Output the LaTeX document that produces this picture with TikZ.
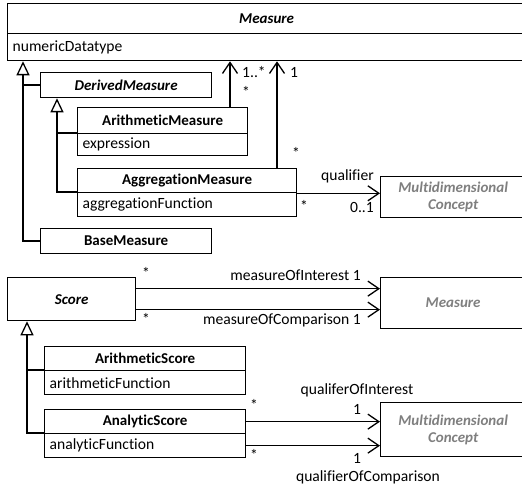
\documentclass[tikz,border=0pt]{standalone}
\usepackage{fontspec}
\setmainfont{Carlito}[Ligatures=CommonOff]
\usetikzlibrary{arrows.meta}
\definecolor{ghost}{RGB}{127,127,127}
\newcommand\umlsize{\fontsize{15.6}{17.5}\selectfont}
\newcommand\umlboldsize{\fontsize{15}{17}\selectfont}
\tikzset{
  cls/.style={draw, line width=1.3pt, anchor=north west, inner sep=0pt, font=\umlboldsize\bfseries},
  attr/.style={draw, line width=1.3pt, anchor=north west, inner sep=0pt, inner xsep=5pt, align=left, font=\umlsize},
  ext/.style={cls, text=ghost, font=\umlboldsize\bfseries\itshape, align=center},
  inh/.style={line width=1.3pt, -{Triangle[open, length=14pt, width=13pt, fill=white]}},
  assoc/.style={line width=1.3pt, -{Straight Barb[length=11pt, width=15pt]}},
  lbl/.style={inner sep=0pt, font=\umlsize},
}
\begin{document}
\begin{tikzpicture}[x=1pt, y=-1pt]
    \useasboundingbox (0,0) rectangle (522,486);
    % measures
    \node[cls, minimum width=518pt, minimum height=30pt] (measure) at (7,3) {\textit{Measure}};
    \node[attr, text width=508pt, minimum height=27pt] (measureattr) at (7,33) {numericDatatype};
    \node[cls, minimum width=171pt, minimum height=25pt] (derived) at (40,72) {\textit{DerivedMeasure}};
    \node[cls, minimum width=170pt, minimum height=26pt] (arithm) at (77,107) {ArithmeticMeasure};
    \node[attr, text width=160pt, minimum height=22pt] (arithattr) at (77,133) {expression};
    \node[cls, minimum width=219pt, minimum height=24pt] (aggm) at (77,168) {AggregationMeasure};
    \node[attr, text width=209pt, minimum height=24pt] (aggattr) at (77,192) {aggregationFunction};
    \node[ext, minimum width=145pt, minimum height=41pt] (mdc) at (380,176) {Multidimensional\\Concept};
    \node[cls, minimum width=171pt, minimum height=25pt] (basem) at (40,228) {BaseMeasure};
    % scores
    \node[cls, minimum width=128pt, minimum height=43pt] (score) at (7,277) {\textit{Score}};
    \node[ext, minimum width=145pt, minimum height=51pt] (measref) at (380,277) {Measure};
    \node[cls, minimum width=201pt, minimum height=24pt] (arscore) at (44,346) {ArithmeticScore};
    \node[attr, text width=191pt, minimum height=24pt] (arscattr) at (44,370) {arithmeticFunction};
    \node[cls, minimum width=201pt, minimum height=24pt] (anscore) at (44,409) {AnalyticScore};
    \node[attr, text width=191pt, minimum height=24pt] (anscattr) at (44,433) {analyticFunction};
    \node[ext, minimum width=145pt, minimum height=54pt] (mdcref) at (380,402) {Multidimensional\\Concept};

    % generalisations
    \coordinate (g1) at ([xshift=16pt]measureattr.south west);
    \coordinate (g2) at ([xshift=17pt]derived.south west);
    \coordinate (g3) at ([xshift=20pt]score.south west);
    \draw[inh] (basem.west) -| (g1);
    \draw[line width=1.3pt] (derived.west) -- (derived.west -| g1);
    \draw[inh] (aggattr.north west) -| (g2);
    \draw[line width=1.3pt] (arithattr.north west) -- (arithattr.north west -| g2);
    \draw[inh] (anscattr.north west) -| (g3);
    \draw[line width=1.3pt] (arscattr.north west) -- (arscattr.north west -| g3);

    % associations
    \coordinate (p1) at ([xshift=153pt]arithm.north west);
    \coordinate (p2) at ([xshift=200pt]aggm.north west);
    \draw[assoc] (p1) -- (p1 |- measureattr.south);
    \draw[assoc] (p2) -- (p2 |- measureattr.south);
    \draw[assoc] (aggm.south east) -- (aggm.south east -| mdc.west);
    \coordinate (s1) at ([yshift=10.5pt]score.east);
    \coordinate (s2) at ([yshift=-10.5pt]score.east);
    \draw[assoc] (s1) -- (s1 -| measref.west);
    \draw[assoc] (s2) -- (s2 -| measref.west);
    \draw[assoc] (anscore.east) -- (anscore.east -| mdcref.west);
    \draw[assoc] (anscattr.east) -- (anscattr.east -| mdcref.west);

    % multiplicities and roles
    \node[lbl, anchor=west] (m1) at (242,72) {1..*};
    \node[lbl, anchor=west] (m2) at (242,92) {*};
    \node[lbl, anchor=west] (m3) at (290,72) {1};
    \node[lbl, anchor=west] (m4) at (292,153) {*};
    \node[lbl, anchor=east] (q1) at (374,176) {qualifier};
    \node[lbl, anchor=east] (q2) at (374,208) {0..1};
    \node[lbl, anchor=west] (q3) at (300,206) {*};
    \node[lbl, anchor=west] (s3) at (142,273) {*};
    \node[lbl, anchor=west] (s4) at (142,319) {*};
    \node[lbl, anchor=east] (s5) at (361,275) {measureOfInterest 1};
    \node[lbl, anchor=east] (s6) at (361,320) {measureOfComparison 1};
    \node[lbl, anchor=west] (a1) at (250,405) {*};
    \node[lbl, anchor=west] (a2) at (250,455) {*};
    \node[lbl] (a3) at (357,409) {1};
    \node[lbl] (a4) at (357,458) {1};
    \node[lbl] (a5) at (357,390) {qualiferOfInterest};
    \node[lbl] (a6) at (368,477) {qualifierOfComparison};
\end{tikzpicture}
\end{document}
